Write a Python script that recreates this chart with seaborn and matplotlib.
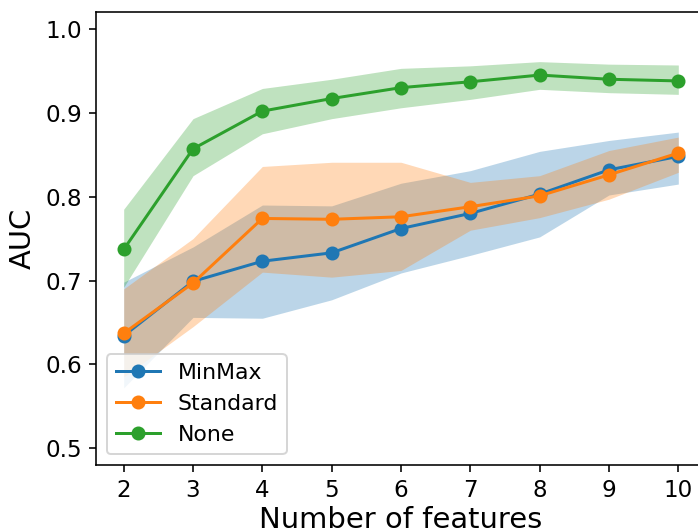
import numpy as np
import pandas as pd
import matplotlib
matplotlib.use("Agg")
import matplotlib.pyplot as plt
import seaborn as sns

# AUC vs number of features, for three scaling methods
n_features = [2, 3, 4, 5, 6, 7, 8, 9, 10]

minmax_mean = [0.634, 0.699, 0.723, 0.733, 0.762, 0.780, 0.803, 0.832, 0.848]
minmax_lo = [0.572, 0.656, 0.655, 0.677, 0.709, 0.730, 0.752, 0.802, 0.815]
minmax_hi = [0.698, 0.740, 0.790, 0.789, 0.816, 0.831, 0.854, 0.867, 0.877]

standard_mean = [0.637, 0.697, 0.774, 0.773, 0.776, 0.788, 0.801, 0.826, 0.852]
standard_lo = [0.585, 0.645, 0.710, 0.704, 0.712, 0.760, 0.775, 0.797, 0.829]
standard_hi = [0.690, 0.750, 0.836, 0.841, 0.841, 0.817, 0.825, 0.855, 0.871]

none_mean = [0.737, 0.857, 0.902, 0.917, 0.930, 0.937, 0.945, 0.940, 0.938]
none_lo = [0.692, 0.825, 0.875, 0.893, 0.906, 0.916, 0.928, 0.924, 0.922]
none_hi = [0.785, 0.893, 0.929, 0.940, 0.953, 0.956, 0.961, 0.958, 0.957]

series = [
    ("MinMax", minmax_mean, minmax_lo, minmax_hi, "#1f77b4"),
    ("Standard", standard_mean, standard_lo, standard_hi, "#ff7f0e"),
    ("None", none_mean, none_lo, none_hi, "#2ca02c"),
]

fig = plt.figure(figsize=(698 / 144, 529 / 144), dpi=144)
# axes run a bit past the right edge, like the cropped original
ax = fig.add_axes([0.1375, 0.121, 0.874, 0.856])

# bands first, lines on top
for name, mean, lo, hi, color in series:
    ax.fill_between(n_features, lo, hi, color=color, alpha=0.3, linewidth=0)

for name, mean, lo, hi, color in series:
    df = pd.DataFrame({"n": n_features, "auc": mean})
    sns.lineplot(data=df, x="n", y="auc", ax=ax, color=color, marker="o",
                 markeredgecolor=color, markeredgewidth=1, label=name,
                 errorbar=None)

ax.set_xticks(n_features)
ax.set_yticks([0.5, 0.6, 0.7, 0.8, 0.9, 1.0])
ax.set_xlim(1.6, 10.4)
ax.set_ylim(0.48, 1.02)
ax.tick_params(labelsize=11.5)
ax.set_xlabel("Number of features", fontsize=14.5, labelpad=2)
ax.set_ylabel("AUC", fontsize=14.5)
ax.legend(loc="lower left", fontsize=11)

fig.savefig("out.png", dpi=144)
